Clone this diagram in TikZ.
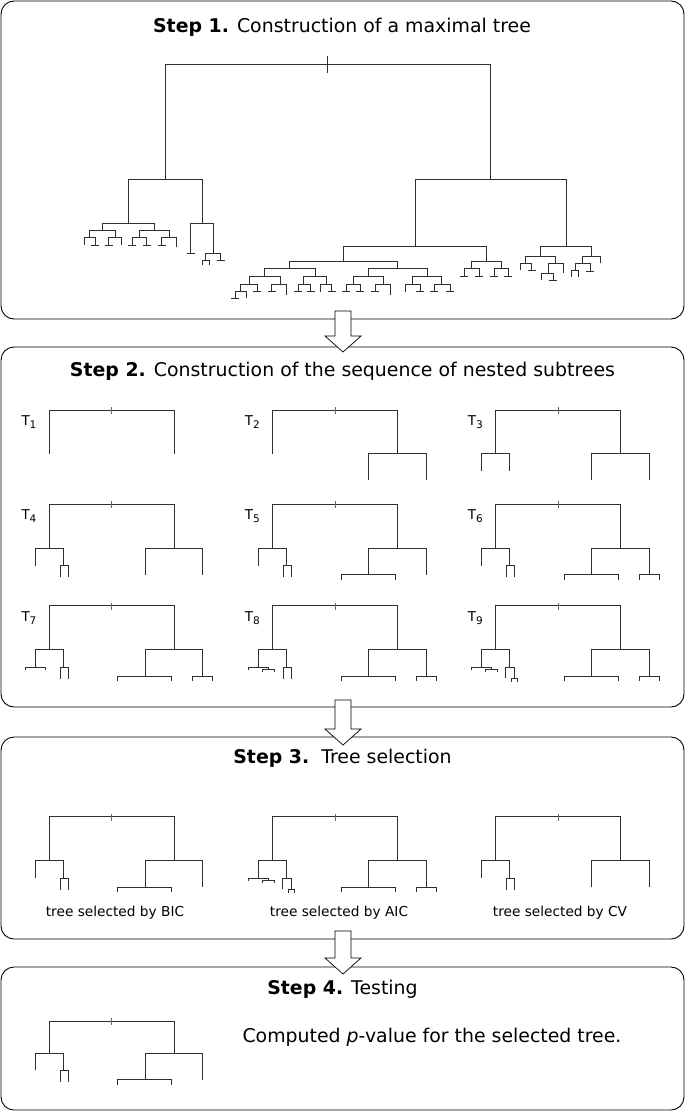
\documentclass[tikz,border=0pt]{standalone}
\usepackage{fontspec}
\setmainfont{DejaVu Sans}
\tikzset{
  tl/.style={line width=0.95pt, draw=black!82},
  tick/.style={line width=0.45pt, draw=black!60},
  boxst/.style={draw=black, line width=0.9pt, rounded corners=13pt},
  ttl/.style={font=\fontsize{18.9}{22}\selectfont, anchor=center, inner sep=0pt},
  lab/.style={font=\fontsize{13.5}{15}\selectfont, anchor=base west, inner sep=0pt},
  capt/.style={font=\fontsize{13.7}{15}\selectfont, anchor=center, inner sep=0pt},
  blk/.style={draw=black, fill=white, line width=0.7pt, line join=miter}
}
% big-tree helpers
\newcommand\dsp[5]{\draw[tl] (#1,#4) |- (#2,#3) -- (#2,#5);}
\newcommand\dlf[2]{\draw[tl] ({#1-4},#2) -- ({#1+4},#2);}
% small-tree parts (relative to root-left, root y)
\newcommand\stRoot{\draw[tl] (0,\Da) |- (124.7,0) -- (124.7,\Da); \draw[tick] (62.3,-3) -- (62.3,4);}
\newcommand\stR{\draw[tl] (96,{\Da+26.5}) |- (153.6,\Da) -- (153.6,{\Da+26.5});}
\newcommand\stL{\draw[tl] (-14,{\Da+17.4}) |- (14,\Da) -- (14,{\Da+17.4});}
\newcommand\stLR{\draw[tl] (10.7,{\Da+29}) |- (19,{\Da+17.4}) -- (19,{\Da+29});}
\newcommand\stLRs{\draw[tl] (10,{\Da+28.7}) |- (18.6,{\Da+17.4}) -- (18.6,{\Da+28.7});
  \draw[tl] (15.3,{\Da+32}) |- (22,{\Da+28.7}) -- (22,{\Da+32});}
\newcommand\stRL{\draw[tl] (68.6,{\Da+31.7}) |- (122.6,{\Da+26.5}) -- (122.6,{\Da+31.7});}
\newcommand\stRR{\draw[tl] (143.6,{\Da+31.5}) |- (163.6,{\Da+26.5}) -- (163.6,{\Da+31.5});}
\newcommand\stLL{\draw[tl] (-24,{\Da+20.1}) |- (-4,{\Da+17.4}) -- (-4,{\Da+20.1});}
\newcommand\stLLs{\stLL \draw[tl] (-10,{\Da+22.4}) |- (2,{\Da+20.1}) -- (2,{\Da+22.4});}
\newcommand\stLab[2]{\node[lab] (#1) at (-28,15.5) {T\raisebox{-0.4ex}{\fontsize{10.5}{11}\selectfont #2}};}
\newcommand\blockarrow[3]{%
  \draw[blk] ({#1-8},#2) -- ({#1+8},#2) -- ({#1+8},{#3-16}) -- ({#1+18},{#3-16}) -- (#1,#3)
    -- ({#1-18},{#3-16}) -- ({#1-8},{#3-16}) -- cycle;}
\begin{document}
\begin{tikzpicture}[x=1pt,y=-1pt]
\useasboundingbox (0,0) rectangle (685,1111);
% boxes
\draw[boxst] (1,1) rectangle (684,319);
\draw[boxst] (1,347) rectangle (684,707);
\draw[boxst] (1,737) rectangle (684,939);
\draw[boxst] (1,967) rectangle (684,1110);
% arrows
\blockarrow{343}{311}{352}
\blockarrow{343}{700}{745}
\blockarrow{343}{931}{974}
% titles
\node[ttl] (s1) at (342,27) {\textbf{Step 1.} Construction of a maximal tree};
\node[ttl] (s2) at (342.5,371) {\textbf{Step 2.} Construction of the sequence of nested subtrees};
\node[ttl] (s3) at (342.5,758) {\textbf{Step 3.}\ \ Tree selection};
\node[ttl] (s4) at (342.5,989) {\textbf{Step 4.} Testing};

% ===== Step 1 big tree =====
\dsp{165}{490}{64}{179}{179}
\draw[tl] (327.7,56) -- (327.7,72.7);
% left part
\dsp{128.3}{202.3}{179}{223.3}{223.3}
\dsp{102.3}{154.3}{223.3}{230.7}{230.7}
\dsp{89.3}{115}{230.7}{237.7}{237.7}
\dsp{84}{95}{237.7}{245}{245} \dlf{95}{245}
\dsp{108.5}{121.5}{237.7}{245}{245} \dlf{108.5}{245}
\dsp{139.3}{169}{230.7}{237.7}{237.7}
\dsp{132.3}{146.7}{237.7}{245}{245} \dlf{146.7}{245} \dlf{132.3}{245}
\dsp{161.7}{176.7}{237.7}{245}{247} \dlf{161.7}{245}
\dsp{190.7}{213.3}{223.3}{253.3}{253.3} \dlf{190.7}{253.3}
\dsp{205.7}{220.7}{253.3}{260.7}{260.7} \dlf{220.7}{260.7}
\dsp{202.3}{209}{260.7}{265}{265}
% right part
\dsp{415}{566}{179}{246.7}{246.7}
\dsp{343.3}{486.7}{246.7}{261}{261}
\dsp{289.3}{397.7}{261}{268.7}{268.7}
\dsp{264.3}{315}{268.7}{276.7}{276.7}
\dsp{249.3}{280}{276.7}{284}{284}
\dsp{240.7}{257.3}{284}{291.7}{291.7} \dlf{257.3}{291.7}
\dsp{235}{246}{291.7}{298.3}{298.3} \dlf{235}{298.3}
\dsp{271.7}{286.7}{284}{291.7}{295} \dlf{271.7}{291.7}
\dsp{303.3}{326}{276.7}{284}{284}
\dsp{298.3}{310.7}{284}{291.7}{291.7} \dlf{310.7}{291.7} \dlf{298.3}{291.7}
\dsp{320}{331.7}{284}{291.7}{291.7} \dlf{331.7}{291.7}
\dsp{368.3}{427.3}{268.7}{276.7}{276.7}
\dsp{353.3}{383.3}{276.7}{284}{284}
\dsp{346}{360}{284}{291.7}{291.7} \dlf{346}{291.7} \dlf{360}{291.7}
\dsp{375}{390}{284}{291.7}{295} \dlf{375}{291.7}
\dsp{412.7}{441.7}{276.7}{284}{284}
\dsp{405}{420}{284}{291.7}{291.7} \dlf{420}{291.7}
\dsp{434}{450}{284}{291.7}{291.7} \dlf{434}{291.7} \dlf{450}{291.7}
\dsp{471.7}{501.7}{261}{268.7}{268.7}
\dsp{464}{479.3}{268.7}{276}{276} \dlf{464}{276} \dlf{479.3}{276}
\dsp{494}{508.3}{268.7}{276}{276} \dlf{494}{276} \dlf{508.3}{276}
\dsp{540}{591.7}{246.7}{256}{256}
\dsp{525}{555}{256}{263.3}{263.3}
\dsp{520}{531.7}{263.3}{270}{270.7} \dlf{531.7}{270.7}
\dsp{548.3}{563.3}{263.3}{273.3}{272.7}
\dsp{541.7}{553.3}{273.3}{280}{280} \dlf{553.3}{280}
\dsp{582.7}{600.7}{256}{263.3}{262.7}
\dsp{575}{590}{263.3}{270.7}{271.7} \dlf{590}{271.7}
\dsp{571.7}{578.3}{270.7}{277.3}{277.3}

% ===== Step 2 subtrees =====
\def\Da{43.5}
\begin{scope}[shift={(49.3,410)}]
  \stRoot \stLab{t1}{1}
\end{scope}
\begin{scope}[shift={(272.7,410)}]
  \stRoot \stR \stLab{t2}{2}
\end{scope}
\begin{scope}[shift={(495.7,410)}]
  \stRoot \stR \stL \stLab{t3}{3}
\end{scope}
\def\Da{44}
\begin{scope}[shift={(49.3,504.3)}]
  \stRoot \stR \stL \stLR \stLab{t4}{4}
\end{scope}
\begin{scope}[shift={(272.7,504.3)}]
  \stRoot \stR \stL \stLR \stRL \stLab{t5}{5}
\end{scope}
\begin{scope}[shift={(495.7,504.3)}]
  \stRoot \stR \stL \stLR \stRL \stRR \stLab{t6}{6}
\end{scope}
\begin{scope}[shift={(49.3,605.7)}]
  \stRoot \stR \stL \stLR \stRL \stRR \stLL \stLab{t7}{7}
\end{scope}
\begin{scope}[shift={(272.7,605.7)}]
  \stRoot \stR \stL \stLR \stRL \stRR \stLLs \stLab{t8}{8}
\end{scope}
\begin{scope}[shift={(495.7,605.7)}]
  \stRoot \stR \stL \stLRs \stRL \stRR \stLLs \stLab{t9}{9}
\end{scope}

% ===== Step 3 =====
\begin{scope}[shift={(49.3,816.7)}]
  \stRoot \stR \stL \stLR \stRL
\end{scope}
\begin{scope}[shift={(272.7,816.7)}]
  \stRoot \stR \stL \stLRs \stRL \stRR \stLLs
\end{scope}
\begin{scope}[shift={(495.7,816.7)}]
  \stRoot \stR \stL \stLR
\end{scope}
\node[capt] (bic) at (115,913) {tree selected by BIC};
\node[capt] (aic) at (339,913) {tree selected by AIC};
\node[capt] (cv) at (560,913) {tree selected by CV};

% ===== Step 4 =====
\def\Da{32}
\begin{scope}[shift={(49.3,1021)}]
  \stRoot \stR \stL \stLR \stRL
\end{scope}
\node[ttl] (pv) at (432,1037) {Computed \textit{p}-value for the selected tree.};
\end{tikzpicture}
\end{document}
